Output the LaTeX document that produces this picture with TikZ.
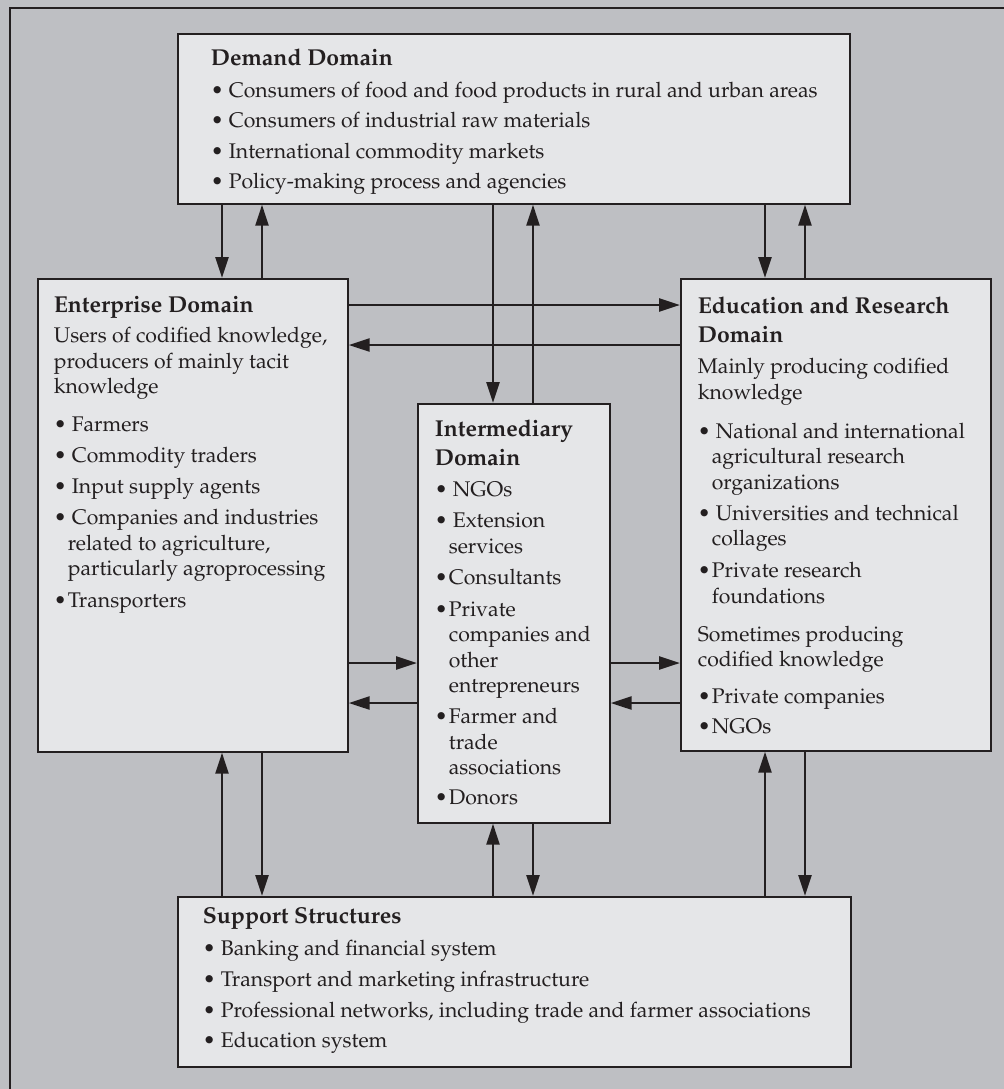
\documentclass[tikz,border=0pt]{standalone}
\usepackage[T1]{fontenc}
\usepackage{mathpazo}
\usetikzlibrary{arrows.meta}

\definecolor{bggray}{RGB}{190,191,195}
\definecolor{boxgray}{RGB}{229,230,232}
\definecolor{ink}{RGB}{35,31,32}

% box contents: height, width, left pad, text (top aligned)
\newcommand{\domtext}[4]{\parbox[c][#1][t]{#2}{\raggedright\leftskip=#3\relax #4}}
\newcommand{\ttlfont}{\fontsize{11.5}{12.75}\selectfont\bfseries}
\newcommand{\domttl}[2][16.5pt]{\rule{0pt}{#1}{\ttlfont #2}}
\newcommand{\bulsp}{\makebox[9pt][l]{\textbullet}}
\newcommand{\bultt}{\makebox[7pt][l]{\textbullet}}
\newcommand{\hangln}{\hspace*{7pt}}

\tikzset{
  dom/.style={draw=ink, line width=0.85pt, fill=boxgray, text=ink,
    anchor=north west, inner sep=0pt,
    font=\fontsize{10.6}{12.75}\selectfont},
  arr/.style={draw=ink, line width=1.3pt, -{Triangle[length=10.5pt,width=6.5pt]}},
}

\begin{document}
\begin{tikzpicture}[x=0.5pt, y=-0.5pt]

  % Background and frame.
  \useasboundingbox (0,0) rectangle (1004,1089);
  \fill[bggray] (0,0) rectangle (1004,1089);
  \draw[ink, line width=1.3pt] (10,1089) -- (10,8) -- (1004,8);

  % Domains.
  \node[dom] (demand) at (177,33) {\domtext{85pt}{336pt}{16.5pt}{%
    \domttl[16pt]{Demand Domain}\\[3pt]
    \bulsp Consumers of food and food products in rural and urban areas\\[2.5pt]
    \bulsp Consumers of industrial raw materials\\[2.5pt]
    \bulsp International commodity markets\\[2.5pt]
    \bulsp Policy-making process and agencies}};

  \node[dom] (ent) at (37,278) {\domtext{236.5pt}{155pt}{8pt}{%
    \domttl[17pt]{Enterprise Domain}\\[2.25pt]
    Users of codified knowledge,\\
    producers of mainly tacit\\
    knowledge\\[6.25pt]
    \bulsp Farmers\\[2.75pt]
    \bulsp Commodity traders\\[2.75pt]
    \bulsp Input supply agents\\[2.75pt]
    \bulsp Companies and industries\\
    \hangln related to agriculture,\\
    \hangln particularly agroprocessing\\[3pt]
    \bultt Transporters}};

  \node[dom] (edu) at (680,278) {\domtext{236pt}{155pt}{8.5pt}{%
    \domttl[17.5pt]{Education and Research}\\[1.75pt]
    {\ttlfont Domain}\\[2.75pt]
    Mainly producing codified\\
    knowledge\\[6.75pt]
    \bulsp National and international\\
    \hangln agricultural research\\
    \hangln organizations\\[2.75pt]
    \bulsp Universities and technical\\
    \hangln collages\\[3.25pt]
    \bultt Private research\\
    \hangln foundations\\[6.25pt]
    Sometimes producing\\
    codified knowledge\\[5.75pt]
    \bultt Private companies\\[2.25pt]
    \bultt NGOs}};

  \node[dom] (inter) at (417,403) {\domtext{209.5pt}{96pt}{8.5pt}{%
    \domttl[16.5pt]{Intermediary}\\[1.75pt]
    {\ttlfont Domain}\\[2.75pt]
    \bulsp NGOs\\[2.75pt]
    \bulsp Extension\\
    \hangln services\\[2.75pt]
    \bultt Consultants\\[3.25pt]
    \bultt Private\\
    \hangln companies and\\
    \hangln other\\
    \hangln entrepreneurs\\[2.75pt]
    \bultt Farmer and\\
    \hangln trade\\
    \hangln associations\\[2.25pt]
    \bultt Donors}};

  \node[dom] (sup) at (177,896) {\domtext{85pt}{336.5pt}{12.5pt}{%
    \domttl[13.5pt]{Support Structures}\\[3.25pt]
    \bulsp Banking and financial system\\[2.75pt]
    \bulsp Transport and marketing infrastructure\\[2.75pt]
    \bulsp Professional networks, including trade and farmer associations\\[2.25pt]
    \bulsp Education system}};

  % Arrow columns and rows.
  \coordinate (cA) at (222,0);
  \coordinate (cB) at (262,0);
  \coordinate (cC) at (493,0);
  \coordinate (cD) at (533,0);
  \coordinate (cE) at (765,0);
  \coordinate (cF) at (805,0);
  \coordinate (rA) at (0,305);
  \coordinate (rB) at (0,345);
  \coordinate (rC) at (0,663);
  \coordinate (rD) at (0,703);

  % Demand links.
  \draw[arr] (demand.south -| cA) -- (ent.north -| cA);
  \draw[arr] (ent.north -| cB) -- (demand.south -| cB);
  \draw[arr] (demand.south -| cC) -- (inter.north -| cC);
  \draw[arr] (inter.north -| cD) -- (demand.south -| cD);
  \draw[arr] (demand.south -| cE) -- (edu.north -| cE);
  \draw[arr] (edu.north -| cF) -- (demand.south -| cF);

  % Side links.
  \draw[arr] (ent.east |- rA) -- (edu.west |- rA);
  \draw[arr] (edu.west |- rB) -- (ent.east |- rB);
  \draw[arr] (ent.east |- rC) -- (inter.west |- rC);
  \draw[arr] (inter.west |- rD) -- (ent.east |- rD);
  \draw[arr] (inter.east |- rC) -- (edu.west |- rC);
  \draw[arr] (edu.west |- rD) -- (inter.east |- rD);

  % Support links.
  \draw[arr] (sup.north -| cA) -- (ent.south -| cA);
  \draw[arr] (ent.south -| cB) -- (sup.north -| cB);
  \draw[arr] (sup.north -| cC) -- (inter.south -| cC);
  \draw[arr] (inter.south -| cD) -- (sup.north -| cD);
  \draw[arr] (sup.north -| cE) -- (edu.south -| cE);
  \draw[arr] (edu.south -| cF) -- (sup.north -| cF);

\end{tikzpicture}
\end{document}
